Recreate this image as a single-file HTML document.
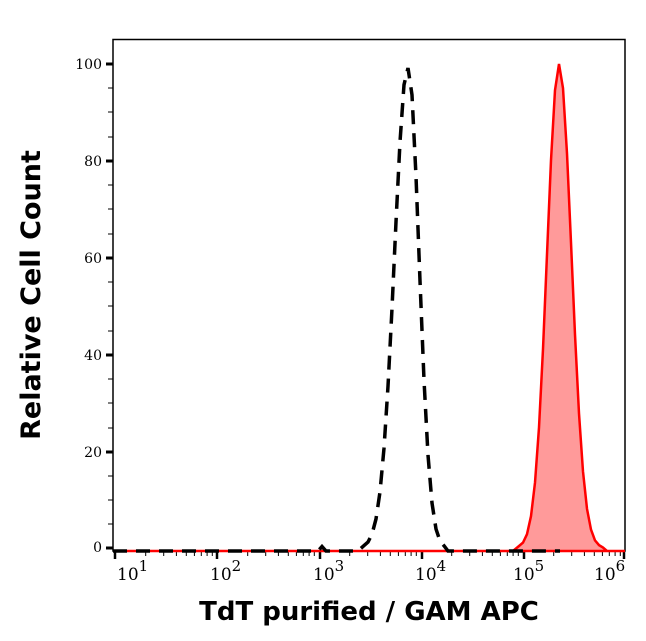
<!DOCTYPE html>
<html><head><style>body{margin:0;background:#fff}svg{display:block}</style></head><body>
<svg width="646" height="641" xmlns="http://www.w3.org/2000/svg">
<rect width="646" height="641" fill="#fff"/>
<g stroke="#000" stroke-width="1.5" fill="none">
<rect x="113" y="39.5" width="512" height="511.5"/>
</g>
<g stroke="#000" stroke-width="3">
<line x1="106" y1="64" x2="113" y2="64"/><line x1="106" y1="161" x2="113" y2="161"/><line x1="106" y1="258" x2="113" y2="258"/><line x1="106" y1="355" x2="113" y2="355"/><line x1="106" y1="452" x2="113" y2="452"/><line x1="106" y1="548" x2="113" y2="548"/>
</g>
<g stroke="#000" stroke-width="1">
<line x1="108" y1="88" x2="113" y2="88"/><line x1="108" y1="112" x2="113" y2="112"/><line x1="108" y1="137" x2="113" y2="137"/>
<line x1="108" y1="185" x2="113" y2="185"/><line x1="108" y1="209" x2="113" y2="209"/><line x1="108" y1="234" x2="113" y2="234"/>
<line x1="108" y1="282" x2="113" y2="282"/><line x1="108" y1="306" x2="113" y2="306"/><line x1="108" y1="331" x2="113" y2="331"/>
<line x1="108" y1="379" x2="113" y2="379"/><line x1="108" y1="403" x2="113" y2="403"/><line x1="108" y1="428" x2="113" y2="428"/>
<line x1="108" y1="476" x2="113" y2="476"/><line x1="108" y1="500" x2="113" y2="500"/><line x1="108" y1="524" x2="113" y2="524"/>
</g>
<g font-family="DejaVu Serif, serif" font-size="14" text-anchor="end" fill="#000">
<text x="102" y="69">100</text><text x="102" y="166">80</text><text x="102" y="263">60</text><text x="102" y="360">40</text><text x="102" y="457">20</text><text x="102" y="552">0</text>
</g>
<g stroke="#000" stroke-width="2.5">
<line x1="115" y1="551" x2="115" y2="559"/><line x1="217" y1="551" x2="217" y2="559"/><line x1="320" y1="551" x2="320" y2="559"/><line x1="422" y1="551" x2="422" y2="559"/><line x1="524" y1="551" x2="524" y2="559"/><line x1="624" y1="551" x2="624" y2="559"/>
</g>
<g stroke="#000" stroke-width="1">
<line x1="145.7" y1="551" x2="145.7" y2="556"/><line x1="163.7" y1="551" x2="163.7" y2="556"/><line x1="176.4" y1="551" x2="176.4" y2="556"/><line x1="186.3" y1="551" x2="186.3" y2="556"/><line x1="194.4" y1="551" x2="194.4" y2="556"/><line x1="201.3" y1="551" x2="201.3" y2="556"/><line x1="207.1" y1="551" x2="207.1" y2="556"/><line x1="212.3" y1="551" x2="212.3" y2="556"/>
<line x1="247.7" y1="551" x2="247.7" y2="556"/><line x1="265.7" y1="551" x2="265.7" y2="556"/><line x1="278.4" y1="551" x2="278.4" y2="556"/><line x1="288.3" y1="551" x2="288.3" y2="556"/><line x1="296.4" y1="551" x2="296.4" y2="556"/><line x1="303.3" y1="551" x2="303.3" y2="556"/><line x1="309.1" y1="551" x2="309.1" y2="556"/><line x1="314.3" y1="551" x2="314.3" y2="556"/>
<line x1="349.7" y1="551" x2="349.7" y2="556"/><line x1="367.7" y1="551" x2="367.7" y2="556"/><line x1="380.4" y1="551" x2="380.4" y2="556"/><line x1="390.3" y1="551" x2="390.3" y2="556"/><line x1="398.4" y1="551" x2="398.4" y2="556"/><line x1="405.3" y1="551" x2="405.3" y2="556"/><line x1="411.1" y1="551" x2="411.1" y2="556"/><line x1="416.3" y1="551" x2="416.3" y2="556"/>
<line x1="451.7" y1="551" x2="451.7" y2="556"/><line x1="469.7" y1="551" x2="469.7" y2="556"/><line x1="482.4" y1="551" x2="482.4" y2="556"/><line x1="492.3" y1="551" x2="492.3" y2="556"/><line x1="500.4" y1="551" x2="500.4" y2="556"/><line x1="507.3" y1="551" x2="507.3" y2="556"/><line x1="513.1" y1="551" x2="513.1" y2="556"/><line x1="518.3" y1="551" x2="518.3" y2="556"/>
<line x1="553.7" y1="551" x2="553.7" y2="556"/><line x1="571.7" y1="551" x2="571.7" y2="556"/><line x1="584.4" y1="551" x2="584.4" y2="556"/><line x1="594.3" y1="551" x2="594.3" y2="556"/><line x1="602.4" y1="551" x2="602.4" y2="556"/><line x1="609.3" y1="551" x2="609.3" y2="556"/><line x1="615.1" y1="551" x2="615.1" y2="556"/><line x1="620.3" y1="551" x2="620.3" y2="556"/>
</g>
<g font-family="DejaVu Serif, serif" fill="#000">
<text x="117" y="580" font-size="17">10<tspan dy="-9" font-size="15">1</tspan></text>
<text x="210" y="580" font-size="17">10<tspan dy="-9" font-size="15">2</tspan></text>
<text x="313" y="580" font-size="17">10<tspan dy="-9" font-size="15">3</tspan></text>
<text x="415" y="580" font-size="17">10<tspan dy="-9" font-size="15">4</tspan></text>
<text x="513" y="580" font-size="17">10<tspan dy="-9" font-size="15">5</tspan></text>
<text x="594" y="580" font-size="17">10<tspan dy="-9" font-size="15">6</tspan></text>
</g>
<path d="M113,551 L513,551 L519,546 L523,542.6 L527,534.2 L531,516.2 L535,482.6 L539,427.5 L543,349.1 L547,254.3 L551,160.3 L555,90.2 L559,64 L563,88.2 L567,153.5 L571,242.6 L575,334.6 L579,413.5 L583,471.5 L587,508.8 L591,529.6 L595,540.4 L599,545.1 L603,547.5 L607,551 L625,551 Z" fill="#ff9a9a" stroke="#ff0000" stroke-width="2.5"/>
<path d="M113,551 L318,551 L322,546.5 L326,551 L358,551 L364,545.6 L368,542 L372,534.2 L376,519 L380,491.9 L384,448.3 L388,386.3 L392,308.4 L396,221.8 L400,141.9 L404,84.8 L408,68 L412,94.9 L416,176.3 L420,280.8 L424,380 L428,455 L432,503 L436,529 L440,541 L444,545.7 L448,551 L560,551" fill="none" stroke="#000" stroke-width="3.5" stroke-dasharray="14,9"/>
<text x="369" y="620" font-family="DejaVu Sans, sans-serif" font-weight="bold" font-size="26" text-anchor="middle">TdT purified / GAM APC</text>
<text transform="translate(40,295) rotate(-90)" font-family="DejaVu Sans, sans-serif" font-weight="bold" font-size="27" text-anchor="middle">Relative Cell Count</text>
</svg>
</body></html>
